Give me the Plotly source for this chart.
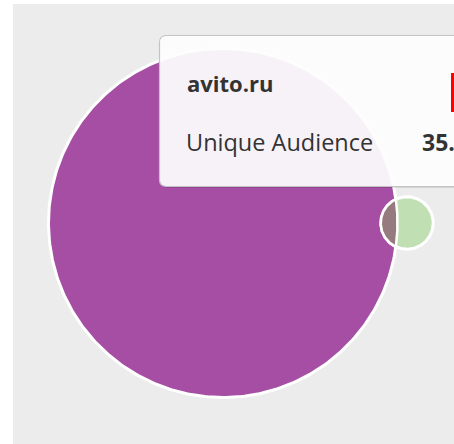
import numpy as np
import plotly.graph_objects as go

# ---- data ----
sets = ["avito.ru", "other"]
audience = [35.4, 0.8]          # unique audience (millions)
overlap = 0.21                  # shared audience
tooltip_title = "avito.ru"
tooltip_label = "Unique Audience"
tooltip_value = "35.4"
colors = ["#a54ea4", "#c0e0b4"]
overlap_color = "#957b80"

W, H = 454, 444
scale = 174.5 / np.sqrt(audience[0])
r1 = scale * np.sqrt(audience[0])
r2 = scale * np.sqrt(audience[1])
ov_area = scale ** 2 * overlap * np.pi


def lens_area(d, a, b):
    if d >= a + b:
        return 0.0
    if d <= abs(a - b):
        return np.pi * min(a, b) ** 2
    p1 = a * a * np.arccos((d * d + a * a - b * b) / (2 * d * a))
    p2 = b * b * np.arccos((d * d + b * b - a * a) / (2 * d * b))
    p3 = 0.5 * np.sqrt((-d + a + b) * (d + a - b) * (d - a + b) * (d + a + b))
    return p1 + p2 - p3


lo, hi = abs(r1 - r2) + 1e-6, r1 + r2 - 1e-6
for _ in range(100):
    mid = (lo + hi) / 2
    if lens_area(mid, r1, r2) > ov_area:
        lo = mid
    else:
        hi = mid
d = (lo + hi) / 2

c1 = (223.0, 223.0)
c2 = (c1[0] + d, c1[1])


def circle(c, r, n=361):
    t = np.linspace(0, 2 * np.pi, n)
    return c[0] + r * np.cos(t), c[1] + r * np.sin(t)


a = (d * d + r1 * r1 - r2 * r2) / (2 * d)
h = np.sqrt(r1 * r1 - a * a)
t1 = np.arctan2(h, a)
tb = np.linspace(-t1, t1, 80)
xb = c1[0] + r1 * np.cos(tb)
yb = c1[1] + r1 * np.sin(tb)
s_start = np.arctan2(h, a - d)
s_end = 2 * np.pi + np.arctan2(-h, a - d)
ts = np.linspace(s_start, s_end, 80)
xs = c2[0] + r2 * np.cos(ts)
ys = c2[1] + r2 * np.sin(ts)
lx = np.concatenate([xb, xs, xb[:1]])
ly = np.concatenate([yb, ys, yb[:1]])

fig = go.Figure()
for c, r, col, name in [(c1, r1, colors[0], sets[0]), (c2, r2, colors[1], sets[1])]:
    x, y = circle(c, r)
    fig.add_trace(go.Scatter(x=x, y=y, fill="toself", fillcolor=col, mode="lines",
                             line=dict(color="white", width=3), name=name,
                             hoverinfo="skip", showlegend=False))
fig.add_trace(go.Scatter(x=lx, y=ly, fill="toself", fillcolor=overlap_color, mode="lines",
                         line=dict(color="white", width=2.5), hoverinfo="skip", showlegend=False))

shapes = [
    dict(type="rect", xref="x", yref="y", x0=13, x1=W + 5, y0=4, y1=H + 5,
         fillcolor="#ececec", line=dict(width=0), layer="below"),
]
# tooltip box with rounded corners
x0, y0, x1, y1, rr = 159.5, 35.5, 470, 186.5, 7
path = (f"M {x0+rr},{y0} L {x1},{y0} L {x1},{y1} L {x0+rr},{y1} "
        f"Q {x0},{y1} {x0},{y1-rr} L {x0},{y0+rr} Q {x0},{y0} {x0+rr},{y0} Z")
shadow = (f"M {x0+rr+1},{y0+1.5} L {x1},{y0+1.5} L {x1},{y1+1.5} L {x0+rr+1},{y1+1.5} "
          f"Q {x0+1},{y1+1.5} {x0+1},{y1-rr+1.5} L {x0+1},{y0+rr+1.5} Q {x0+1},{y0+1.5} {x0+rr+1},{y0+1.5} Z")
shapes.append(dict(type="path", path=shadow, xref="x", yref="y",
                   fillcolor="rgba(0,0,0,0.10)", line=dict(width=0), layer="above"))
shapes.append(dict(type="path", path=path, xref="x", yref="y",
                   fillcolor="rgba(255,255,255,0.93)", line=dict(color="#c4c4c4", width=1.2), layer="above"))
shapes.append(dict(type="rect", xref="x", yref="y", x0=451, x1=456, y0=73, y1=112,
                   fillcolor="#ff0000", line=dict(width=0), layer="above"))

fig.update_layout(
    width=W, height=H, margin=dict(l=0, r=0, t=0, b=0),
    paper_bgcolor="white", plot_bgcolor="white",
    xaxis=dict(range=[0, W], visible=False, fixedrange=True),
    yaxis=dict(range=[H, 0], visible=False, fixedrange=True),
    shapes=shapes,
    annotations=[
        dict(x=185, y=83, xref="x", yref="y", text=f"<b>{tooltip_title}</b>", showarrow=False,
             xanchor="left", yanchor="middle", font=dict(family="Open Sans", size=22, color="#333333")),
        dict(x=184, y=142, xref="x", yref="y", text=tooltip_label, showarrow=False,
             xanchor="left", yanchor="middle", font=dict(family="Open Sans", size=23.5, color="#333333")),
        dict(x=420, y=142, xref="x", yref="y", text=f"<b>{tooltip_value}</b>", showarrow=False,
             xanchor="left", yanchor="middle", font=dict(family="Open Sans", size=23, color="#333333")),
    ],
    showlegend=False,
)
fig.write_html("out.html", config={"displayModeBar": False},
               post_script="document.body.style.margin='0';document.body.style.overflow='hidden';")
